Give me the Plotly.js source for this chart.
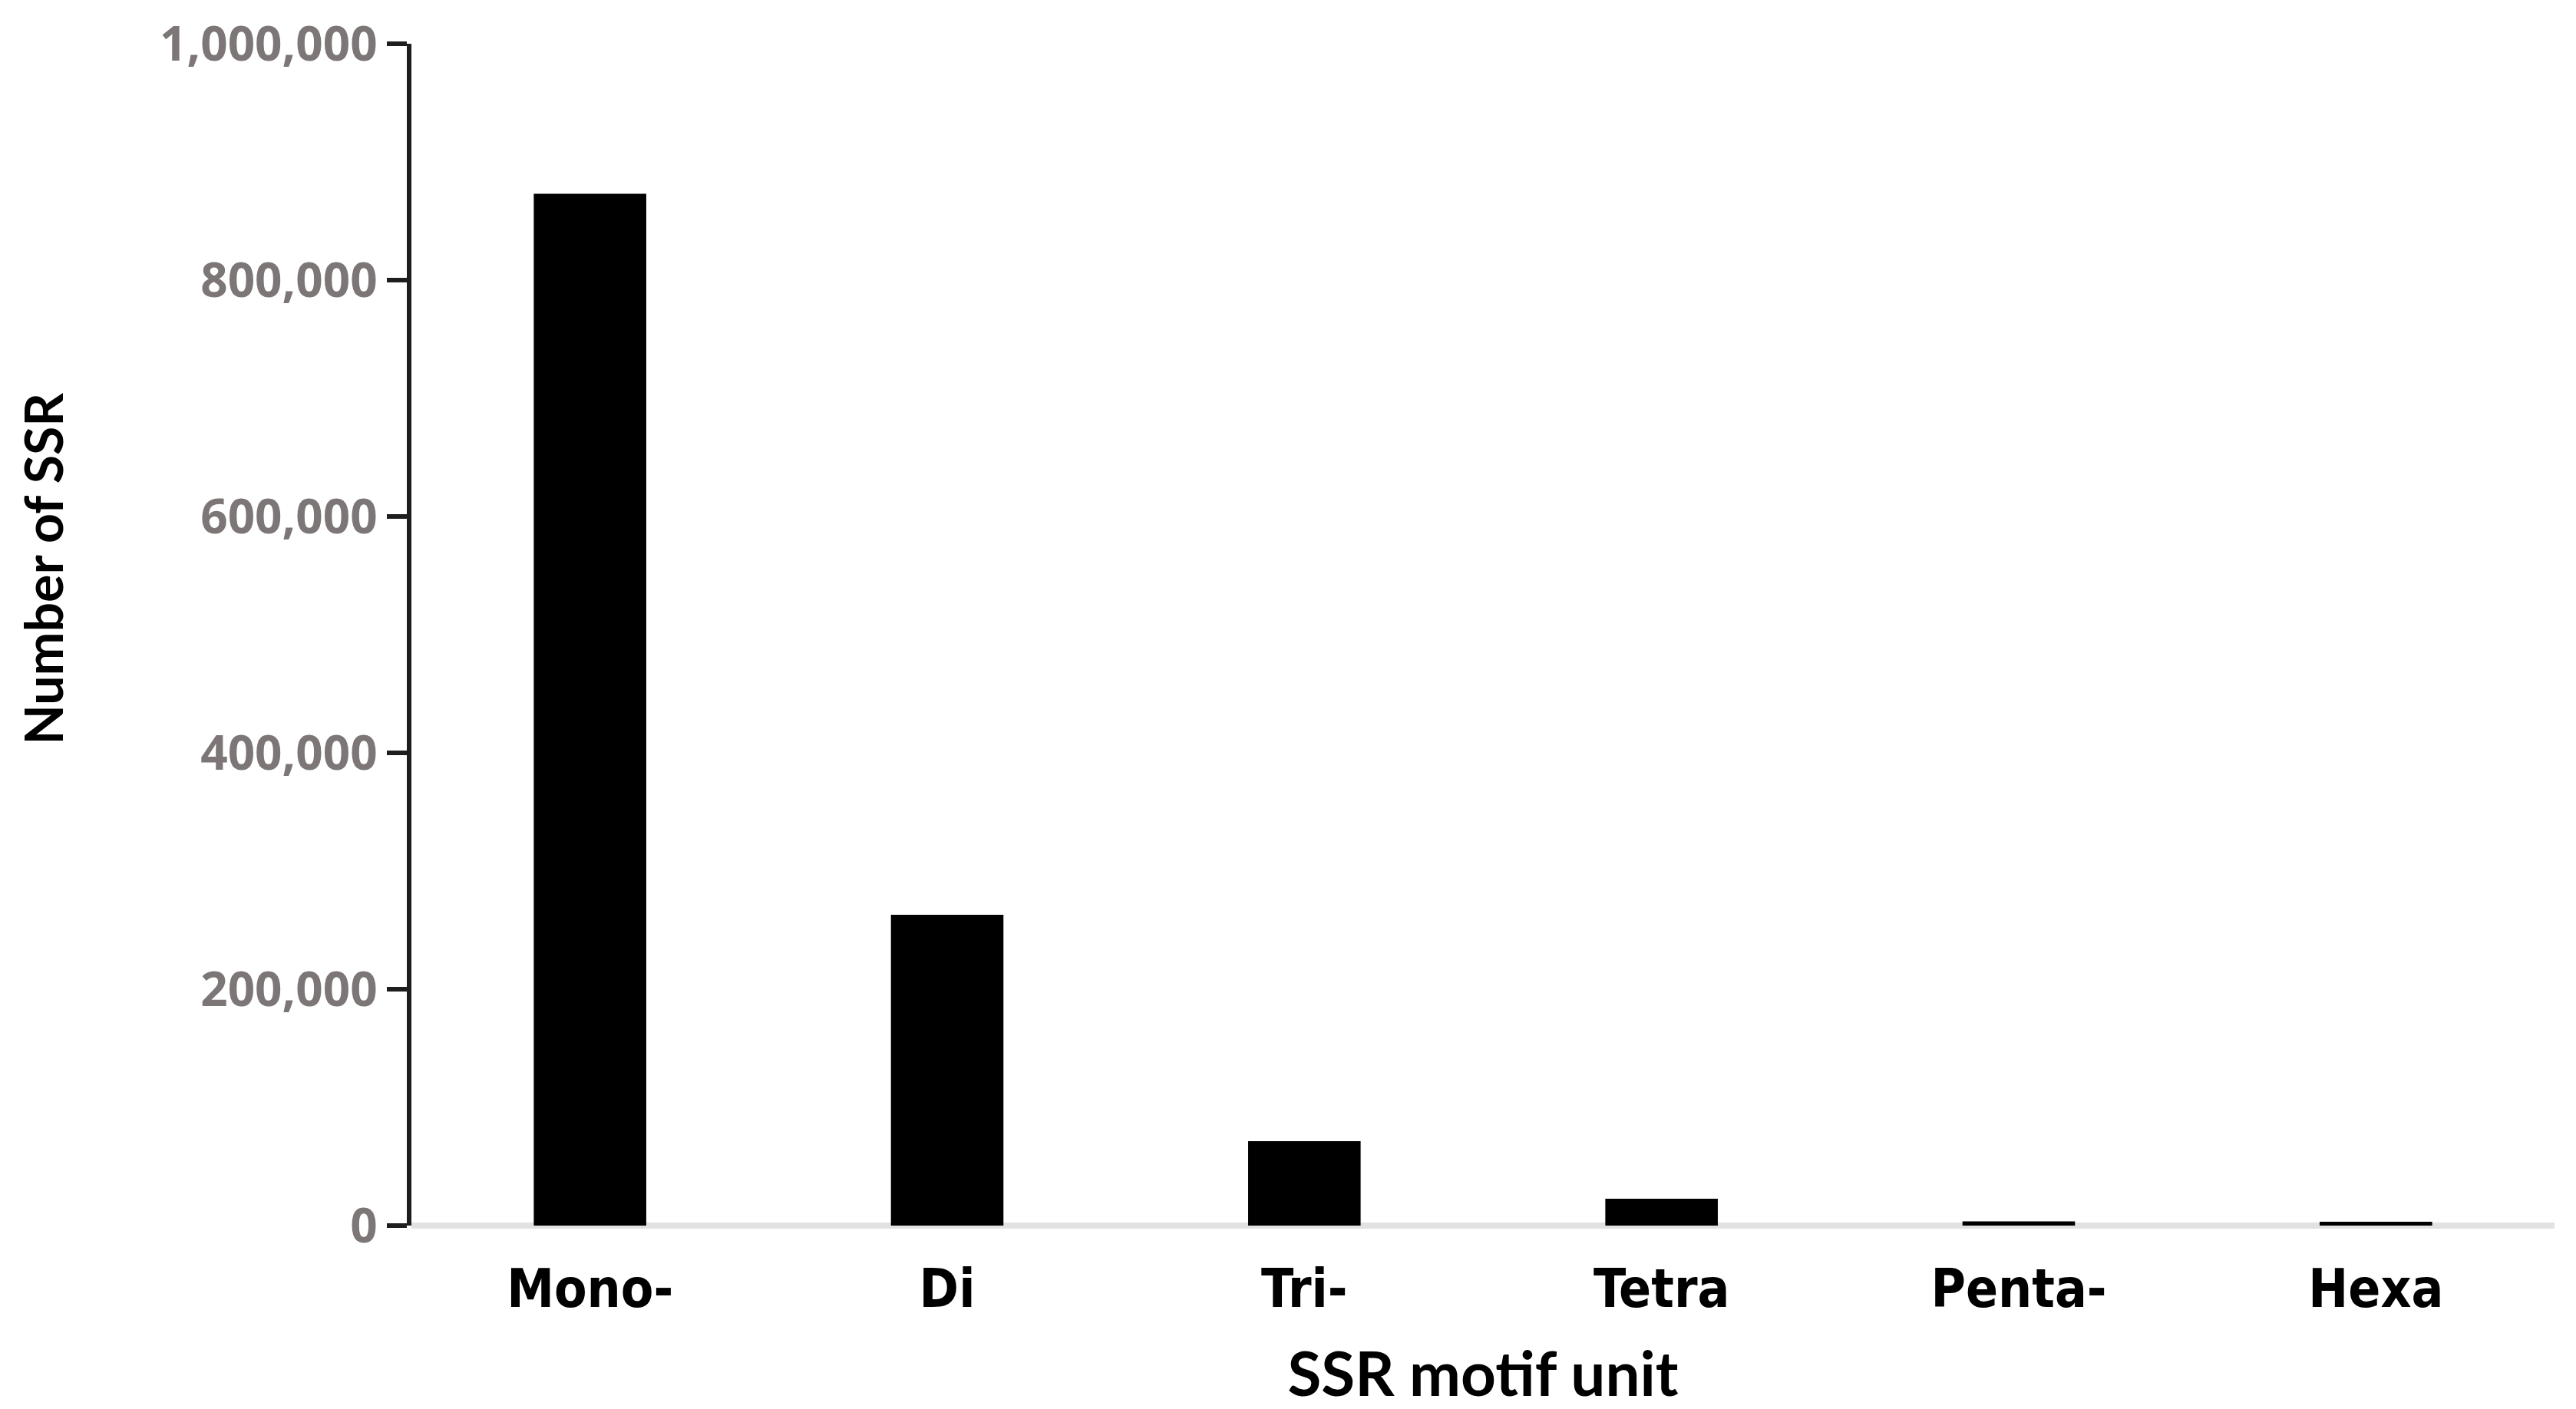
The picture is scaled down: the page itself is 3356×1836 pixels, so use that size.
<!DOCTYPE html>
<html>
<head>
<meta charset="utf-8">
<script src="https://cdn.plot.ly/plotly-3.0.1.min.js"></script>
<style>
  html, body { margin: 0; padding: 0; background: #ffffff; }
  #chart { width: 3356px; height: 1836px; }
</style>
</head>
<body>
<div id="chart"></div>
<script>
// ---- data ----
const categories = ['Mono-', 'Di', 'Tri-', 'Tetra', 'Penta-', 'Hexa'];
const ssrCounts = [873000, 263000, 71500, 22700, 3500, 3300];
const yTickValues = [0, 200000, 400000, 600000, 800000, 1000000];
const yTickLabels = ['0', '200,000', '400,000', '600,000', '800,000', '1,000,000'];
const xTitle = 'SSR motif unit';
const yTitle = 'Number of SSR';

const trace = {
  type: 'bar',
  x: categories,
  y: ssrCounts,
  width: 0.315,
  marker: { color: '#000000', line: { width: 0 } },
  hovertemplate: '%{x}: %{y:,}<extra></extra>'
};

const layout = {
  width: 3356,
  height: 1836,
  margin: { l: 536, r: 28, t: 57, b: 239, pad: 0 },
  paper_bgcolor: '#ffffff',
  plot_bgcolor: '#ffffff',
  showlegend: false,
  xaxis: {
    type: 'category',
    range: [-0.5, 5.5],
    showline: false,
    showgrid: false,
    zeroline: false,
    ticks: '',
    automargin: false,
    ticklabelstandoff: 36,
    tickfont: { family: 'DejaVu Sans Condensed, DejaVu Sans', size: 69, color: '#000000', weight: 'bold' },
    title: { text: xTitle, font: { family: 'Lato', size: 80, color: '#000000', weight: 'bold' }, standoff: 56 }
  },
  yaxis: {
    range: [0, 1000000],
    tickmode: 'array',
    tickvals: yTickValues,
    ticktext: yTickLabels,
    showline: true,
    linecolor: '#1e1e1e',
    linewidth: 6,
    ticks: 'outside',
    ticklen: 26,
    tickwidth: 6,
    tickcolor: '#1e1e1e',
    showgrid: false,
    zeroline: true,
    zerolinecolor: '#e2e2e2',
    zerolinewidth: 8,
    automargin: false,
    tickfont: { family: 'Open Sans', size: 62, color: '#7c7676', weight: 'bold' }
  },
  annotations: [{
    text: yTitle,
    xref: 'paper', yref: 'paper',
    x: -0.172, y: 0.556,
    xanchor: 'center', yanchor: 'middle',
    textangle: -90,
    showarrow: false,
    font: { family: 'Lato', size: 68, color: '#000000', weight: 'bold' }
  }]
};

Plotly.newPlot('chart', [trace], layout, { displayModeBar: false, responsive: false });
</script>
</body>
</html>
